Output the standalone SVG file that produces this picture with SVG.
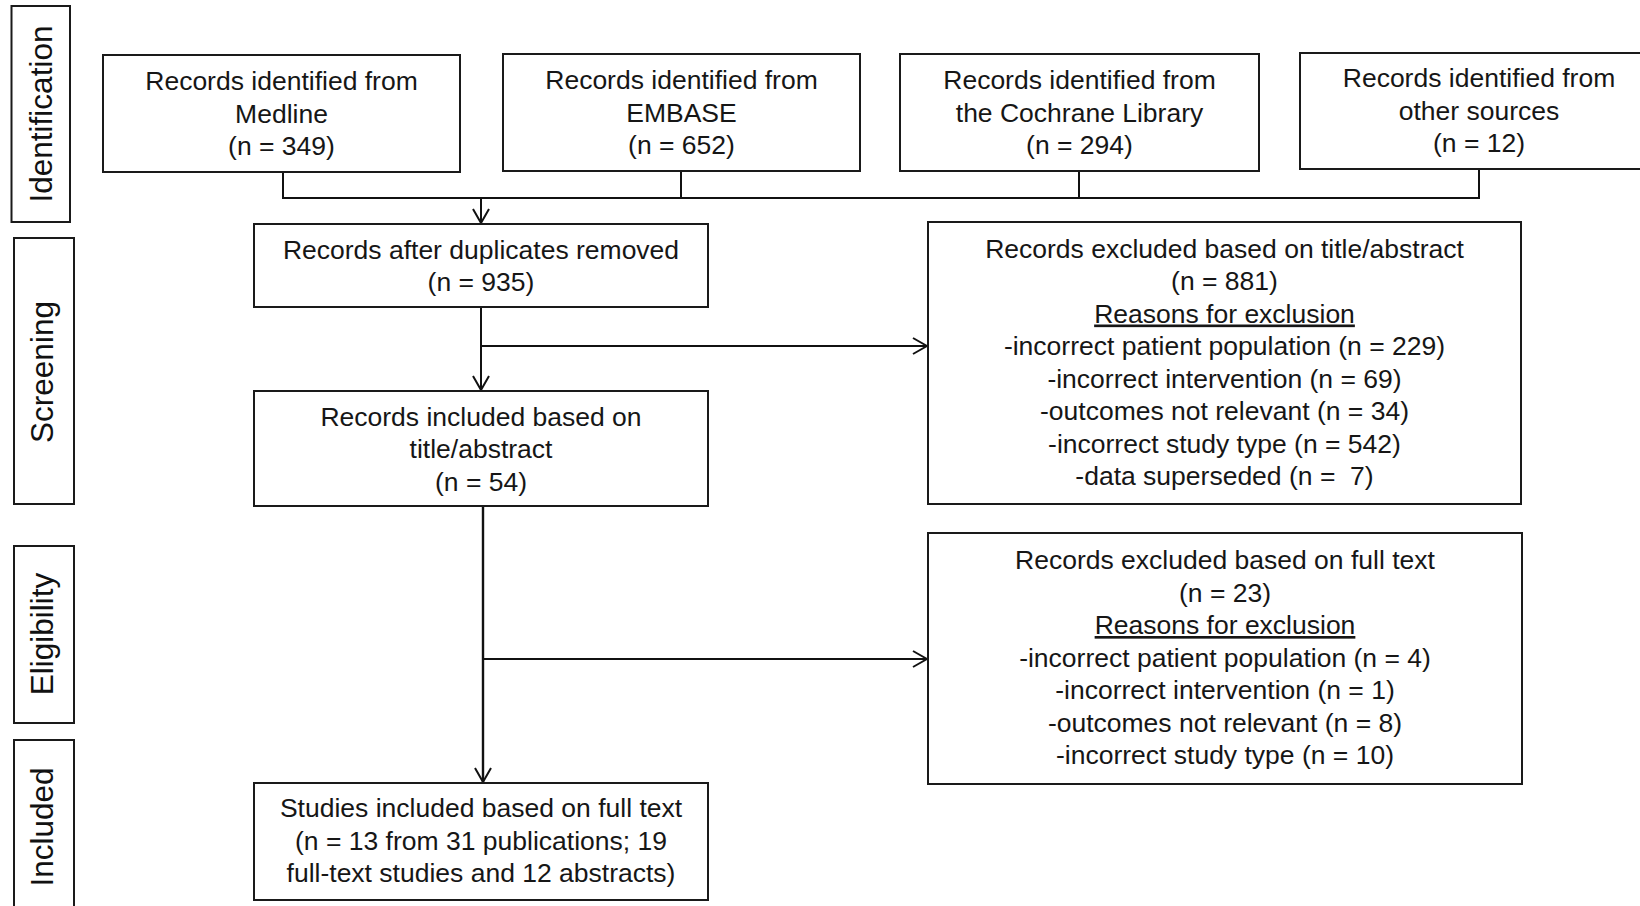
<svg xmlns="http://www.w3.org/2000/svg" width="1640" height="906" viewBox="0 0 1640 906">
<defs>
<style>
.box{fill:#fff;stroke:#1a1a1a;stroke-width:2}
.lbl{font-family:"Liberation Sans",Arial,sans-serif;font-size:31.5px;fill:#111;text-anchor:middle}
.t{font-family:"Liberation Sans",Arial,sans-serif;font-size:26.5px;fill:#161616;text-anchor:middle}
.c{fill:none;stroke:#111;stroke-width:2}
.u{text-decoration:underline}
.pre{white-space:pre}
</style>
<marker id="arr" viewBox="0 0 16 18" refX="15" refY="9" markerWidth="16" markerHeight="18" markerUnits="userSpaceOnUse" orient="auto">
<path d="M1,1 L15,9 L1,17" fill="none" stroke="#111" stroke-width="2"/>
</marker>
</defs>
<rect width="1640" height="906" fill="#fff"/>

<g id="stage-identification">
<rect class="box" x="11.5" y="6" width="58.5" height="216"/>
<text class="lbl" transform="translate(52,114) rotate(-90)">Identification</text>
</g>
<g id="stage-screening">
<rect class="box" x="14" y="238" width="60" height="266"/>
<text class="lbl" transform="translate(53,372) rotate(-90)">Screening</text>
</g>
<g id="stage-eligibility">
<rect class="box" x="14" y="546" width="60" height="177"/>
<text class="lbl" transform="translate(53,634) rotate(-90)">Eligibility</text>
</g>
<g id="stage-included">
<rect class="box" x="14" y="740" width="60" height="174"/>
<text class="lbl" transform="translate(53,827) rotate(-90)">Included</text>
</g>

<g id="connectors">
<path class="c" d="M283,172 V198 H1479 V169"/>
<path class="c" d="M681,171 V198"/>
<path class="c" d="M1079,171 V198"/>
<path class="c" d="M481,198 V223" marker-end="url(#arr)"/>
<path class="c" d="M481,307 V390" marker-end="url(#arr)"/>
<path class="c" d="M481,346 H927" marker-end="url(#arr)"/>
<path class="c" d="M483,506 V782" marker-end="url(#arr)" style="stroke-width:2.4"/>
<path class="c" d="M483,659 H927" marker-end="url(#arr)"/>
</g>

<g id="medline">
<rect class="box" x="103" y="55" width="357" height="117"/>
<text class="t" x="281.5" y="90">Records identified from</text>
<text class="t" x="281.5" y="122.5">Medline</text>
<text class="t" x="281.5" y="155">(n = 349)</text>
</g>
<g id="embase">
<rect class="box" x="503" y="54" width="357" height="117"/>
<text class="t" x="681.5" y="89">Records identified from</text>
<text class="t" x="681.5" y="121.5">EMBASE</text>
<text class="t" x="681.5" y="154">(n = 652)</text>
</g>
<g id="cochrane">
<rect class="box" x="900" y="54" width="359" height="117"/>
<text class="t" x="1079.5" y="89">Records identified from</text>
<text class="t" x="1079.5" y="121.5">the Cochrane Library</text>
<text class="t" x="1079.5" y="154">(n = 294)</text>
</g>
<g id="other">
<rect class="box" x="1300" y="53" width="358" height="116"/>
<text class="t" x="1479" y="87">Records identified from</text>
<text class="t" x="1479" y="119.5">other sources</text>
<text class="t" x="1479" y="152">(n = 12)</text>
</g>
<g id="duplicates">
<rect class="box" x="254" y="224" width="454" height="83"/>
<text class="t" x="481" y="258.5">Records after duplicates removed</text>
<text class="t" x="481" y="291">(n = 935)</text>
</g>
<g id="included-abstract">
<rect class="box" x="254" y="391" width="454" height="115"/>
<text class="t" x="481" y="425.5">Records included based on</text>
<text class="t" x="481" y="458">title/abstract</text>
<text class="t" x="481" y="490.5">(n = 54)</text>
</g>
<g id="studies">
<rect class="box" x="254" y="783" width="454" height="117"/>
<text class="t" x="481" y="817">Studies included based on full text</text>
<text class="t" x="481" y="849.5">(n = 13 from 31 publications; 19</text>
<text class="t" x="481" y="882">full-text studies and 12 abstracts)</text>
</g>
<g id="excluded-abstract">
<rect class="box" x="928" y="222" width="593" height="282"/>
<text class="t" x="1224.5" y="257.5">Records excluded based on title/abstract</text>
<text class="t" x="1224.5" y="290">(n = 881)</text>
<text class="t u" x="1224.5" y="322.5">Reasons for exclusion</text>
<text class="t" x="1224.5" y="355">-incorrect patient population (n = 229)</text>
<text class="t" x="1224.5" y="387.5">-incorrect intervention (n = 69)</text>
<text class="t" x="1224.5" y="420">-outcomes not relevant (n = 34)</text>
<text class="t" x="1224.5" y="452.5">-incorrect study type (n = 542)</text>
<text class="t pre" x="1224.5" y="485" xml:space="preserve">-data superseded (n =  7)</text>
</g>
<g id="excluded-fulltext">
<rect class="box" x="928" y="533" width="594" height="251"/>
<text class="t" x="1225" y="569">Records excluded based on full text</text>
<text class="t" x="1225" y="601.5">(n = 23)</text>
<text class="t u" x="1225" y="634">Reasons for exclusion</text>
<text class="t" x="1225" y="666.5">-incorrect patient population (n = 4)</text>
<text class="t" x="1225" y="699">-incorrect intervention (n = 1)</text>
<text class="t" x="1225" y="731.5">-outcomes not relevant (n = 8)</text>
<text class="t" x="1225" y="764">-incorrect study type (n = 10)</text>
</g>
</svg>
